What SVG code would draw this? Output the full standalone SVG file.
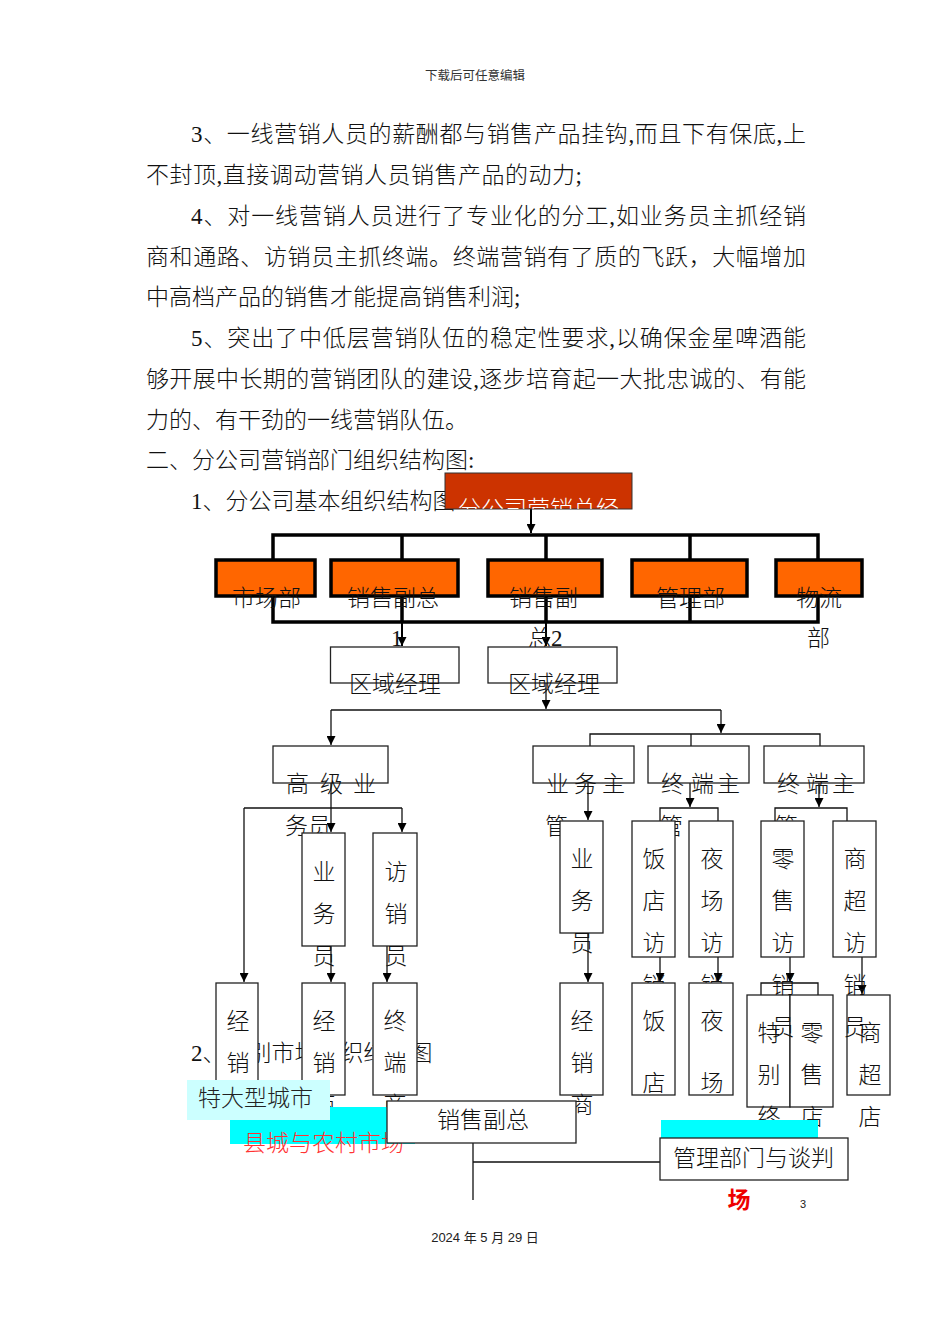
<svg xmlns="http://www.w3.org/2000/svg" width="950" height="1344" viewBox="0 0 950 1344">
<defs>
<style>
.b{font-family:"Liberation Serif","Noto Sans CJK SC",sans-serif;font-size:23px;fill:#111;font-weight:300}
.c{text-anchor:middle}
.thin{fill:none;stroke:#111;stroke-width:1.3}
.mid{fill:none;stroke:#000;stroke-width:2}
.thick{fill:none;stroke:#000;stroke-width:3.5}
.box{fill:#fff;stroke:#222;stroke-width:1.3}
.or{fill:#FF6600;stroke:#000;stroke-width:3.5}
.arr{marker-end:url(#ah)}
</style>
<marker id="ah" viewBox="0 0 10 10" refX="10" refY="5" markerWidth="9" markerHeight="9" markerUnits="userSpaceOnUse" orient="auto"><path d="M0,0 L10,5 L0,10 z" fill="#000"/></marker>
<clipPath id="topclip"><rect x="445" y="473" width="187" height="36"/></clipPath>
</defs>
<rect width="950" height="1344" fill="#fff"/>

<g id="page-text">
<text x="475" y="80" text-anchor="middle" style="font-family:'Noto Sans CJK SC',sans-serif;font-size:12.5px;fill:#333">下载后可任意编辑</text>
<text class="b" x="191" y="142" textLength="615" lengthAdjust="spacing">3、一线营销人员的薪酬都与销售产品挂钩,而且下有保底,上</text>
<text class="b" x="146" y="183" textLength="436" lengthAdjust="spacing">不封顶,直接调动营销人员销售产品的动力;</text>
<text class="b" x="191" y="224" textLength="615" lengthAdjust="spacing">4、对一线营销人员进行了专业化的分工,如业务员主抓经销</text>
<text class="b" x="146" y="265" textLength="660" lengthAdjust="spacing">商和通路、访销员主抓终端。终端营销有了质的飞跃，大幅增加</text>
<text class="b" x="146" y="305">中高档产品的销售才能提高销售利润;</text>
<text class="b" x="191" y="346" textLength="615" lengthAdjust="spacing">5、突出了中低层营销队伍的稳定性要求,以确保金星啤酒能</text>
<text class="b" x="146" y="387" textLength="660" lengthAdjust="spacing">够开展中长期的营销团队的建设,逐步培育起一大批忠诚的、有能</text>
<text class="b" x="146" y="428">力的、有干劲的一线营销队伍。</text>
<text class="b" x="146" y="468">二、分公司营销部门组织结构图:</text>
<text class="b" x="191" y="509">1、分公司基本组织结构图</text>
<text class="b" x="191" y="1061">2、特别市场组织结构图</text>
</g>

<g id="connectors">
<path class="mid arr" d="M531,509 V533"/>
<path class="thick" d="M273,559 V535 H818 V559 M402,535 V559 M546,535 V559 M690,535 V559"/>
<path class="thick" d="M273,597 V622 H818 V597 M690,597 V622 M402,597 V622 M546,597 V622"/>
<path class="mid arr" d="M402,622 V646"/>
<path class="mid arr" d="M546,622 V646"/>
<path class="thin arr" d="M546,683 V709"/>
<path class="thin" d="M331,710 H721"/>
<path class="thin arr" d="M331,710 V745"/>
<path class="thin arr" d="M721,710 V733"/>
<path class="thin" d="M590,746 V734 H820 V746 M691,734 V746"/>
<path class="thin arr" d="M331,783 V832"/>
<path class="thin" d="M244,808 H402"/>
<path class="thin arr" d="M244,808 V982"/>
<path class="thin arr" d="M402,808 V832"/>
<path class="thin arr" d="M331,946 V982"/>
<path class="thin arr" d="M387,946 V982"/>
<path class="thin arr" d="M588,783 V820"/>
<path class="thin arr" d="M690,783 V807"/>
<path class="thin arr" d="M819,783 V807"/>
<path class="thin" d="M660,821 V808 H718 V821 M775,821 V808 H847 V821"/>
<path class="thin arr" d="M588,933 V982"/>
<path class="thin arr" d="M660,957 V982"/>
<path class="thin arr" d="M718,957 V982"/>
<path class="thin arr" d="M790,957 V982"/>
<path class="thin" d="M761,995 V983 H818 V995"/>
<path class="thin arr" d="M862,957 V994"/>
<path class="thin" d="M473,1143 V1200 M473,1162 H660"/>
</g>

<g id="n-total">
<rect x="445" y="473" width="187" height="36" fill="#CC3300" stroke="#333" stroke-width="1"/>
<text class="b" x="458" y="517" clip-path="url(#topclip)" style="fill:#fff">分公司营销总经</text>
</g>
<g id="n-market"><rect class="or" x="216" y="560" width="99" height="36"/><text class="b" x="232" y="606">市场部</text></g>
<g id="n-vp1"><rect class="or" x="331" y="560" width="127" height="36"/><text class="b" x="347" y="606">销售副总</text><text class="b" x="391" y="646">1</text></g>
<g id="n-vp2"><rect class="or" x="488" y="560" width="114" height="36"/><text class="b" x="509" y="606">销售副</text><text class="b" x="528" y="646">总2</text></g>
<g id="n-admin"><rect class="or" x="632" y="560" width="115" height="36"/><text class="b" x="656" y="606">管理部</text></g>
<g id="n-logistics"><rect class="or" x="776" y="560" width="86" height="36"/><text class="b" x="796" y="606">物流</text><text class="b" x="807" y="646">部</text></g>

<g id="n-rm1"><rect class="box" x="330.5" y="647" width="128.5" height="36"/><text class="b" x="349" y="692">区域经理</text></g>
<g id="n-rm2"><rect class="box" x="488" y="647" width="129" height="36"/><text class="b" x="508" y="692">区域经理</text></g>

<g id="n-senior"><rect class="box" x="273" y="746" width="115" height="37"/><text class="b" x="286 320 353" y="792">高级业</text><text class="b" x="285" y="834">务员</text></g>
<g id="n-bizsup"><rect class="box" x="533" y="746" width="101" height="37"/><text class="b" x="546 574 602" y="792">业务主</text><text class="b" x="545" y="834">管</text></g>
<g id="n-term1"><rect class="box" x="648" y="746" width="101" height="37"/><text class="b" x="661 691 717" y="792">终端主</text><text class="b" x="660" y="834">管</text></g>
<g id="n-term2"><rect class="box" x="764" y="746" width="100" height="37"/><text class="b" x="777 806 832" y="792">终端主</text><text class="b" x="775" y="834">管</text></g>

<g id="n-biz-l"><rect class="box" x="302" y="833" width="43" height="113"/><text class="b c"><tspan x="324" y="880">业</tspan><tspan x="324" y="922">务</tspan><tspan x="324" y="964">员</tspan></text></g>
<g id="n-visit-l"><rect class="box" x="373" y="833" width="44" height="113"/><text class="b c"><tspan x="396" y="880">访</tspan><tspan x="396" y="922">销</tspan><tspan x="396" y="964">员</tspan></text></g>

<g id="n-biz-r"><rect class="box" x="560" y="821" width="43" height="112"/><text class="b c"><tspan x="582" y="867">业</tspan><tspan x="582" y="909">务</tspan><tspan x="582" y="951">员</tspan></text></g>
<g id="n-hotel-v"><rect class="box" x="632" y="821" width="43" height="136"/><text class="b c"><tspan x="654" y="867">饭</tspan><tspan x="654" y="909">店</tspan><tspan x="654" y="951">访</tspan><tspan x="654" y="993">销</tspan></text></g>
<g id="n-night-v"><rect class="box" x="689" y="821" width="44" height="136"/><text class="b c"><tspan x="712" y="867">夜</tspan><tspan x="712" y="909">场</tspan><tspan x="712" y="951">访</tspan><tspan x="712" y="993">销</tspan></text></g>

<g id="n-dist1"><rect class="box" x="216" y="983" width="42" height="112"/><text class="b c"><tspan x="238" y="1029">经</tspan><tspan x="238" y="1071">销</tspan></text></g>
<g id="n-dist2"><rect class="box" x="302" y="983" width="43" height="112"/><text class="b c"><tspan x="324" y="1029">经</tspan><tspan x="324" y="1071">销</tspan><tspan x="324" y="1113">商</tspan></text></g>
<g id="n-termshop"><rect class="box" x="373" y="983" width="44" height="112"/><text class="b c"><tspan x="395" y="1029">终</tspan><tspan x="395" y="1071">端</tspan><tspan x="395" y="1113">商</tspan></text></g>
<g id="n-dist-r"><rect class="box" x="560" y="983" width="43" height="112"/><text class="b c"><tspan x="582" y="1029">经</tspan><tspan x="582" y="1071">销</tspan><tspan x="582" y="1113">商</tspan></text></g>
<g id="n-hotel"><rect class="box" x="632" y="983" width="43" height="112"/><text class="b c"><tspan x="654" y="1029">饭</tspan><tspan x="654" y="1091">店</tspan></text></g>
<g id="n-night"><rect class="box" x="689" y="983" width="44" height="112"/><text class="b c"><tspan x="712" y="1029">夜</tspan><tspan x="712" y="1091">场</tspan></text></g>

<g id="n-special"><rect class="box" x="747" y="995" width="43" height="112"/><text class="b c"><tspan x="769" y="1041">特</tspan><tspan x="769" y="1083">别</tspan><tspan x="769" y="1125">终</tspan></text></g>
<g id="n-retail"><rect class="box" x="790" y="995" width="43" height="112"/><text class="b c"><tspan x="812" y="1041">零</tspan><tspan x="812" y="1083">售</tspan><tspan x="812" y="1125">店</tspan></text></g>
<g id="n-mall"><rect class="box" x="847" y="995" width="43" height="100"/><text class="b c"><tspan x="870" y="1041">商</tspan><tspan x="870" y="1083">超</tspan><tspan x="870" y="1125">店</tspan></text></g>

<g id="n-retail-v"><rect class="box" x="761" y="821" width="43" height="136"/><text class="b c"><tspan x="783" y="867">零</tspan><tspan x="783" y="909">售</tspan><tspan x="783" y="951">访</tspan><tspan x="783" y="993">销</tspan><tspan x="783" y="1035">员</tspan></text></g>
<g id="n-mall-v"><rect class="box" x="833" y="821" width="43" height="136"/><text class="b c"><tspan x="855" y="867">商</tspan><tspan x="855" y="909">超</tspan><tspan x="855" y="951">访</tspan><tspan x="855" y="993">销</tspan><tspan x="855" y="1035">员</tspan></text></g>

<g id="n-mgmt">
<rect x="661" y="1120" width="157" height="18" fill="#00FFFF"/>
<rect class="box" x="660" y="1138" width="188" height="42"/>
<text class="b" x="673" y="1166">管理部门与谈判</text>
<text class="b c" x="739" y="1208" style="fill:#EE0000;font-weight:bold">场</text>
</g>

<g id="n-county">
<rect x="230" y="1107" width="185" height="37" fill="#00FFFF"/>
<text class="b" x="243" y="1151" style="fill:#FF3333">县城与农村市场</text>
</g>
<g id="n-megacity">
<rect x="187" y="1080" width="143" height="40" fill="#CCFFFF"/>
<text class="b" x="198" y="1106" style="fill:#222">特大型城市</text>
</g>
<g id="n-vp-bottom">
<rect class="box" x="387" y="1101" width="189" height="42"/>
<text class="b" x="437" y="1128">销售副总</text>
</g>

<g id="footer">
<text x="803" y="1208" text-anchor="middle" style="font-family:'Liberation Sans',sans-serif;font-size:11px;fill:#222">3</text>
<text x="485" y="1242" text-anchor="middle" style="font-family:'Liberation Sans','Noto Sans CJK SC',sans-serif;font-size:13px;fill:#222">2024 年 5 月 29 日</text>
</g>
</svg>
